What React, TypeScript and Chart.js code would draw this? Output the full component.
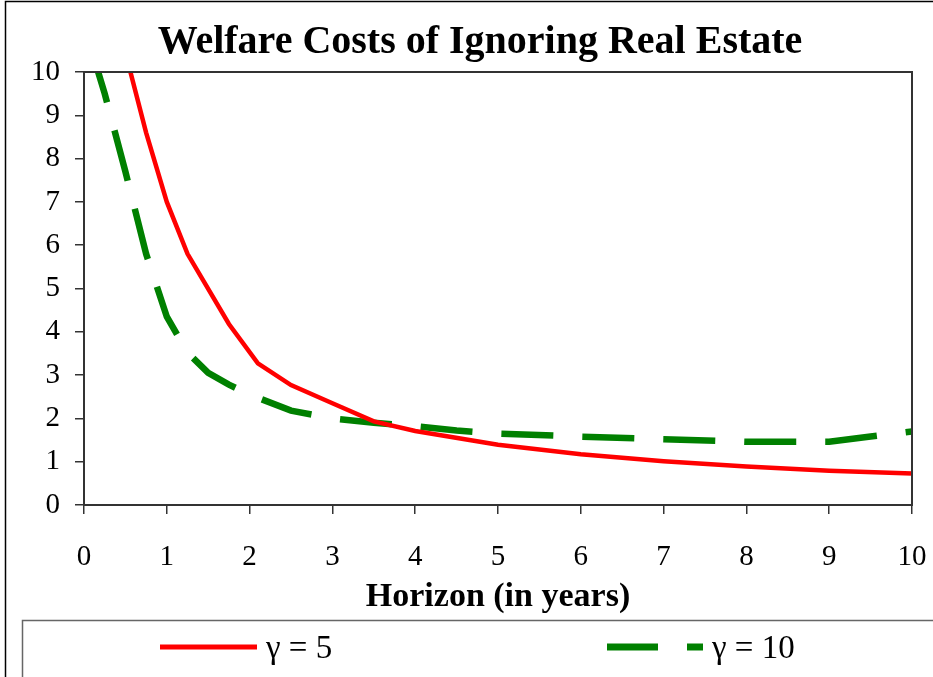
import React, { useEffect, useRef } from "react";
import { Chart, registerables } from "chart.js";

Chart.register(...registerables);

const chartTitle = "Welfare Costs of Ignoring Real Estate";
const xAxisTitle = "Horizon (in years)";
const seriesLabels = ["γ = 5", "γ = 10"];
const xTickValues = [0, 1, 2, 3, 4, 5, 6, 7, 8, 9, 10];
const yTickValues = [0, 1, 2, 3, 4, 5, 6, 7, 8, 9, 10];

const gamma5X = [0.5, 0.75, 1, 1.25, 1.75, 2.1, 2.5, 3, 3.5, 4, 5, 6, 7, 8, 9, 10];
const gamma5Y = [10.45, 8.6, 7.0, 5.8, 4.18, 3.27, 2.77, 2.35, 1.93, 1.71, 1.39, 1.17, 1.01, 0.89, 0.79, 0.73];

const gamma10X = [0.1, 0.25, 0.5, 0.75, 1, 1.25, 1.5, 1.75, 2, 2.5, 3, 3.5, 4, 4.5, 5, 6, 7, 8, 9, 9.5, 10];
const gamma10Y = [10.45, 9.5, 7.7, 5.8, 4.35, 3.52, 3.05, 2.78, 2.55, 2.18, 2.0, 1.9, 1.82, 1.72, 1.65, 1.58, 1.52, 1.46, 1.46, 1.58, 1.7];

const RED = "#ff0000";
const GREEN = "#008000";
const GREEN_DASH = [52, 29];
const SERIF = '"Liberation Serif", "Times New Roman", serif';

const framePlugin = {
  id: "frame",
  afterLayout(chart: any) {
    const t = chart.titleBlock;
    if (t) {
      t.left = 48;
    }
  },
  afterDraw(chart: any) {
    const { ctx, chartArea } = chart;
    ctx.save();
    ctx.strokeStyle = "#000";
    ctx.lineWidth = 1.5;
    ctx.strokeRect(5.5, 1.5, 1100, 1100);
    ctx.strokeStyle = "#333";
    ctx.lineWidth = 2;
    ctx.strokeRect(chartArea.left, chartArea.top, chartArea.right - chartArea.left, chartArea.bottom - chartArea.top);
    ctx.strokeStyle = "#666";
    ctx.lineWidth = 1.5;
    ctx.strokeRect(22.5, 620.5, 1000, 200);
    const ly = 647;
    ctx.lineCap = "butt";
    ctx.strokeStyle = RED;
    ctx.lineWidth = 5;
    ctx.beginPath();
    ctx.moveTo(160, ly);
    ctx.lineTo(257, ly);
    ctx.stroke();
    ctx.strokeStyle = GREEN;
    ctx.lineWidth = 7;
    ctx.setLineDash([51, 29]);
    ctx.beginPath();
    ctx.moveTo(607, ly);
    ctx.lineTo(703, ly);
    ctx.stroke();
    ctx.setLineDash([]);
    ctx.fillStyle = "#000";
    ctx.font = `33px ${SERIF}`;
    ctx.textBaseline = "middle";
    ctx.textAlign = "left";
    ctx.fillText(seriesLabels[0], 266, ly + 2);
    ctx.fillText(seriesLabels[1], 712, ly + 2);
    ctx.restore();
  },
};

export default function App() {
  const canvasRef = useRef<HTMLCanvasElement>(null);

  useEffect(() => {
    document.body.style.margin = "0";
    const canvas = canvasRef.current;
    if (!canvas) return;
    const chart = new Chart(canvas, {
      type: "line",
      data: {
        datasets: [
          {
            label: seriesLabels[0],
            data: gamma5X.map((x, i) => ({ x, y: gamma5Y[i] })),
            borderColor: RED,
            backgroundColor: RED,
            borderWidth: 4.5,
            pointRadius: 0,
            tension: 0,
            clip: 0,
          },
          {
            label: seriesLabels[1],
            data: gamma10X.map((x, i) => ({ x, y: gamma10Y[i] })),
            borderColor: GREEN,
            backgroundColor: GREEN,
            borderWidth: 6.5,
            borderDash: GREEN_DASH,
            pointRadius: 0,
            tension: 0,
            clip: 0,
          },
        ],
      },
      options: {
        responsive: false,
        animation: false,
        devicePixelRatio: 1,
        layout: { padding: { left: 28, right: 21, top: 0, bottom: 57 } },
        plugins: {
          legend: { display: false },
          tooltip: { enabled: false },
          title: {
            display: true,
            text: chartTitle,
            color: "#000",
            font: { family: SERIF, size: 40, weight: "bold" },
            padding: { top: 19, bottom: 5 },
          },
        },
        scales: {
          x: {
            type: "linear",
            min: 0,
            max: 10,
            afterBuildTicks: (s: any) => {
              s.ticks = xTickValues.map((v) => ({ value: v }));
            },
            afterFit: (s: any) => {
              s.height = 115;
              s.paddingLeft = 0;
              s.paddingRight = 0;
            },
            ticks: {
              color: "#000",
              font: { family: SERIF, size: 29 },
              padding: 26,
              maxRotation: 0,
            },
            grid: { drawOnChartArea: false, drawTicks: true, tickLength: 9, color: "#333", lineWidth: 1.5 },
            border: { display: true, color: "#333", width: 2 },
            title: {
              display: true,
              text: xAxisTitle,
              color: "#000",
              font: { family: SERIF, size: 34, weight: "bold" },
              padding: { top: 0, bottom: 2 },
            },
          },
          y: {
            type: "linear",
            min: 0,
            max: 10,
            afterBuildTicks: (s: any) => {
              s.ticks = yTickValues.map((v) => ({ value: v }));
            },
            afterFit: (s: any) => {
              s.width = 56;
              s.paddingTop = 0;
              s.paddingBottom = 0;
            },
            ticks: {
              color: "#000",
              font: { family: SERIF, size: 29 },
              padding: 15,
            },
            grid: { drawOnChartArea: false, drawTicks: true, tickLength: 9, color: "#333", lineWidth: 1.5 },
            border: { display: true, color: "#333", width: 2 },
          },
        },
      },
      plugins: [framePlugin],
    });
    return () => chart.destroy();
  }, []);

  return (
    <div style={{ width: 933, height: 677, background: "#fff" }}>
      <canvas ref={canvasRef} width={933} height={677} style={{ display: "block", width: 933, height: 677 }} />
    </div>
  );
}
